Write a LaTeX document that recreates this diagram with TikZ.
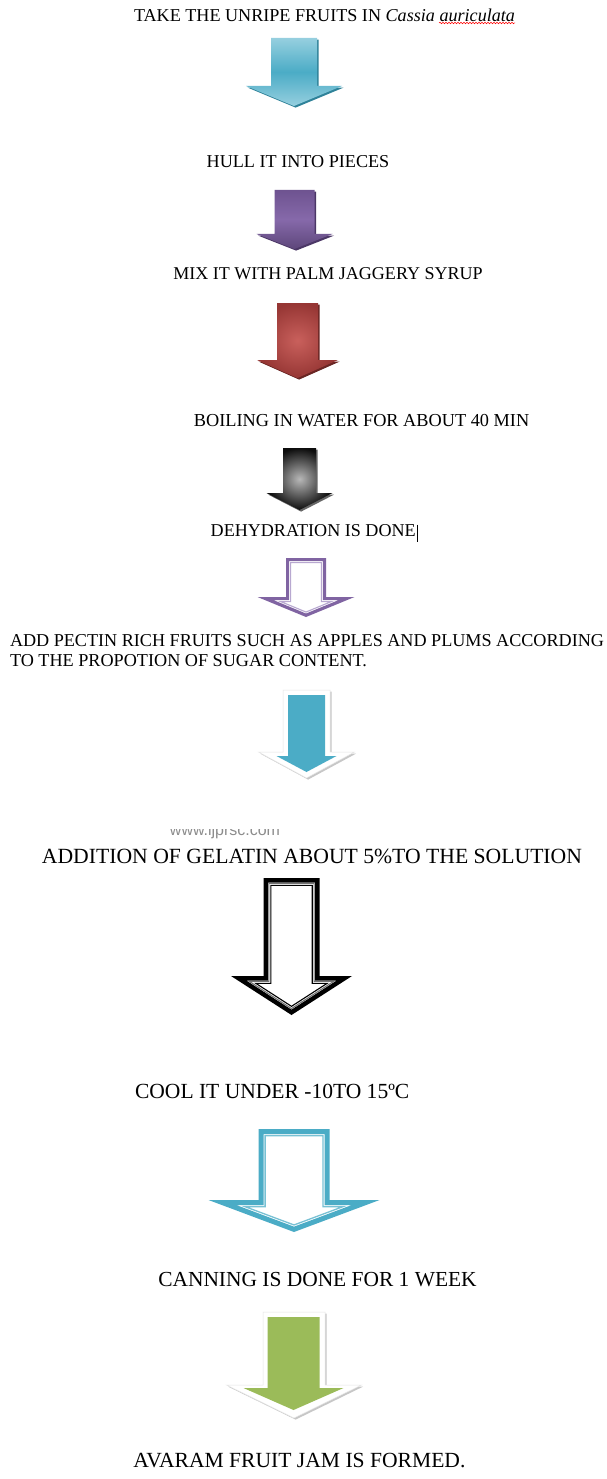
\documentclass[tikz,border=0pt]{standalone}
\usepackage{fontspec}
\setmainfont{Liberation Serif}
\setsansfont{Liberation Sans}
\usepackage{graphicx}
\usetikzlibrary{decorations.pathmorphing}
\definecolor{cOneL}{HTML}{96CFDF}
\definecolor{cOneM}{HTML}{4BACC6}
\definecolor{cOneS}{HTML}{2F8299}
\definecolor{cTwoT}{HTML}{6E5390}
\definecolor{cTwoM}{HTML}{8669AA}
\definecolor{cTwoS}{HTML}{4B3766}
\definecolor{cThrI}{HTML}{C9605C}
\definecolor{cThrO}{HTML}{963634}
\definecolor{cThrS}{HTML}{6A2624}
\definecolor{cPur}{HTML}{8064A2}
\definecolor{cPurL}{HTML}{B8A8D0}
\definecolor{cBlue}{HTML}{4BACC6}
\definecolor{cGreen}{HTML}{9BBB59}
% #1 options, #2 cx, #3 half shaft, #4 half head, #5 top, #6 head top, #7 tip, #8 inset
\newcommand\arrowband[8]{%
  \pgfmathsetmacro\abAng{atan((#7-#6)/#4)}%
  \pgfmathsetmacro\abSh{#3-#8}%
  \pgfmathsetmacro\abTp{#5+#8}%
  \pgfmathsetmacro\abHt{#6+#8}%
  \pgfmathsetmacro\abHh{#4-#8/sin(\abAng)-#8/tan(\abAng)}%
  \pgfmathsetmacro\abTip{#7-#8/cos(\abAng)}%
  \path[#1] ({#2-\abSh},\abTp) -- ({#2+\abSh},\abTp) -- ({#2+\abSh},\abHt)
    -- ({#2+\abHh},\abHt) -- (#2,\abTip) -- ({#2-\abHh},\abHt)
    -- ({#2-\abSh},\abHt) -- cycle;}
\tikzset{
  lbl/.style={inner sep=0pt, outer sep=0pt, anchor=center, text=black},
  lblw/.style={inner sep=0pt, outer sep=0pt, anchor=west, text=black},
  shadowed/.style={xshift=1.6pt, yshift=-1.6pt}
}
\begin{document}
\begin{tikzpicture}[x=1pt, y=-1pt]
\useasboundingbox (0,0) rectangle (606,1479);
\fill[white] (0,0) rectangle (606,1479);

% texts
\node[lbl] (t1) at (324.5,15) {\resizebox{381pt}{!}{TAKE THE UNRIPE FRUITS IN \textit{Cassia auriculata}}};
\coordinate (w1) at (439,23);
\coordinate (w2) at (515,23);
\draw[red, line width=0.5pt, decorate, decoration={snake, amplitude=0.8pt, segment length=3pt}] (w1) -- (w2);
\node[lbl] (t2) at (298,162) {\resizebox{182.6pt}{!}{HULL IT INTO PIECES}};
\node[lbl] (t3) at (328,274) {\resizebox{309.4pt}{!}{MIX IT WITH PALM JAGGERY SYRUP}};
\node[lbl] (t4) at (361.6,421) {\resizebox{335.3pt}{!}{BOILING IN WATER FOR ABOUT 40 MIN}};
\node[lbl] (t5) at (313.2,531) {\resizebox{205pt}{!}{DEHYDRATION IS DONE}};
\coordinate (cur1) at (417.3,524.5);
\coordinate (cur2) at (417.3,541.5);
\draw[black, line width=0.7pt] (cur1) -- (cur2);
\node[lblw] (t6a) at (10,640.3) {\resizebox{594pt}{!}{ADD PECTIN RICH FRUITS SUCH AS APPLES AND PLUMS ACCORDING}};
\node[lblw] (t6b) at (10,661) {\resizebox{357pt}{!}{TO THE PROPOTION OF SUGAR CONTENT.}};
\begin{scope}
\clip (150,829.5) rectangle (300,846);
\node[lbl, text=black!45] (wm) at (225,831.5) {\resizebox{110pt}{!}{\sffamily www.ijprsc.com}};
\end{scope}
\node[lbl] (t7) at (312,856) {\resizebox{540pt}{!}{ADDITION OF GELATIN ABOUT 5\%TO THE SOLUTION}};
\node[lbl] (t8) at (272.2,1091.5) {\resizebox{274.3pt}{!}{COOL IT UNDER -10TO 15ºC}};
\node[lbl] (t9) at (317.5,1279.7) {\resizebox{318.4pt}{!}{CANNING IS DONE FOR 1 WEEK}};
\node[lbl] (t10) at (299.5,1460) {\resizebox{332pt}{!}{AVARAM FRUIT JAM IS FORMED.}};

% arrow 1 (light blue gradient)
\arrowband{fill=cOneS, shadowed}{294}{23}{48}{38}{86}{106}{0}
\arrowband{top color=cOneL, bottom color=cOneL, middle color=cOneM}{294}{23}{48}{38}{86}{106}{0}

% arrow 2 (purple)
\arrowband{fill=cTwoS, shadowed}{294.5}{20}{38}{190}{234}{249}{0}
\arrowband{top color=cTwoT, bottom color=cTwoT!85!black, middle color=cTwoM}{294.5}{20}{38}{190}{234}{249}{0}

% arrow 3 (red)
\arrowband{fill=cThrS, shadowed}{297.5}{20.5}{40.5}{303}{360}{378}{0}
\arrowband{inner color=cThrI, outer color=cThrO}{297.5}{20.5}{40.5}{303}{360}{378}{0}

% arrow 4 (black / gray)
\arrowband{fill=black!60, shadowed}{299.5}{16.5}{33}{448}{493}{510}{0}
\arrowband{inner color=black!28, outer color=black!95}{299.5}{16.5}{33}{448}{493}{510}{0}

% arrow 5 (purple outline)
\arrowband{fill=white, draw=cPur, line width=3.2pt}{306}{20}{48.5}{558}{597}{617}{1.6}
\arrowband{draw=cPurL, line width=1.1pt}{306}{20}{48.5}{558}{597}{617}{4.6}

% arrow 6 (blue with white border)
\arrowband{fill=black!22, shadowed}{306.5}{23.5}{48}{690}{752}{778}{0}
\arrowband{fill=white, draw=black!10, line width=0.5pt}{306.5}{23.5}{48}{690}{752}{778}{0}
\arrowband{fill=cBlue}{306.5}{18.5}{30}{695}{756}{772}{0}

% arrow 7 (black outline)
\arrowband{fill=white, draw=black, line width=4.5pt}{291.5}{28}{60.5}{878}{976}{1015}{2.25}
\arrowband{draw=black!55, line width=1.1pt}{291.5}{28}{60.5}{878}{976}{1015}{5.4}
\arrowband{draw=black, line width=1.1pt}{291.5}{28}{60.5}{878}{976}{1015}{7.3}

% arrow 8 (blue outline)
\arrowband{fill=white, draw=cBlue, line width=5pt}{294}{35.5}{85.5}{1129}{1200}{1232}{2.5}
\arrowband{draw=cBlue!75, line width=1.3pt}{294}{35.5}{85.5}{1129}{1200}{1232}{6.6}

% arrow 9 (green with white border)
\arrowband{fill=black!22, shadowed}{294}{31}{67.5}{1312}{1385}{1418}{0}
\arrowband{fill=white, draw=black!10, line width=0.5pt}{294}{31}{67.5}{1312}{1385}{1418}{0}
\arrowband{fill=cGreen}{293.5}{26}{50}{1317}{1388}{1410}{0}
\end{tikzpicture}
\end{document}
